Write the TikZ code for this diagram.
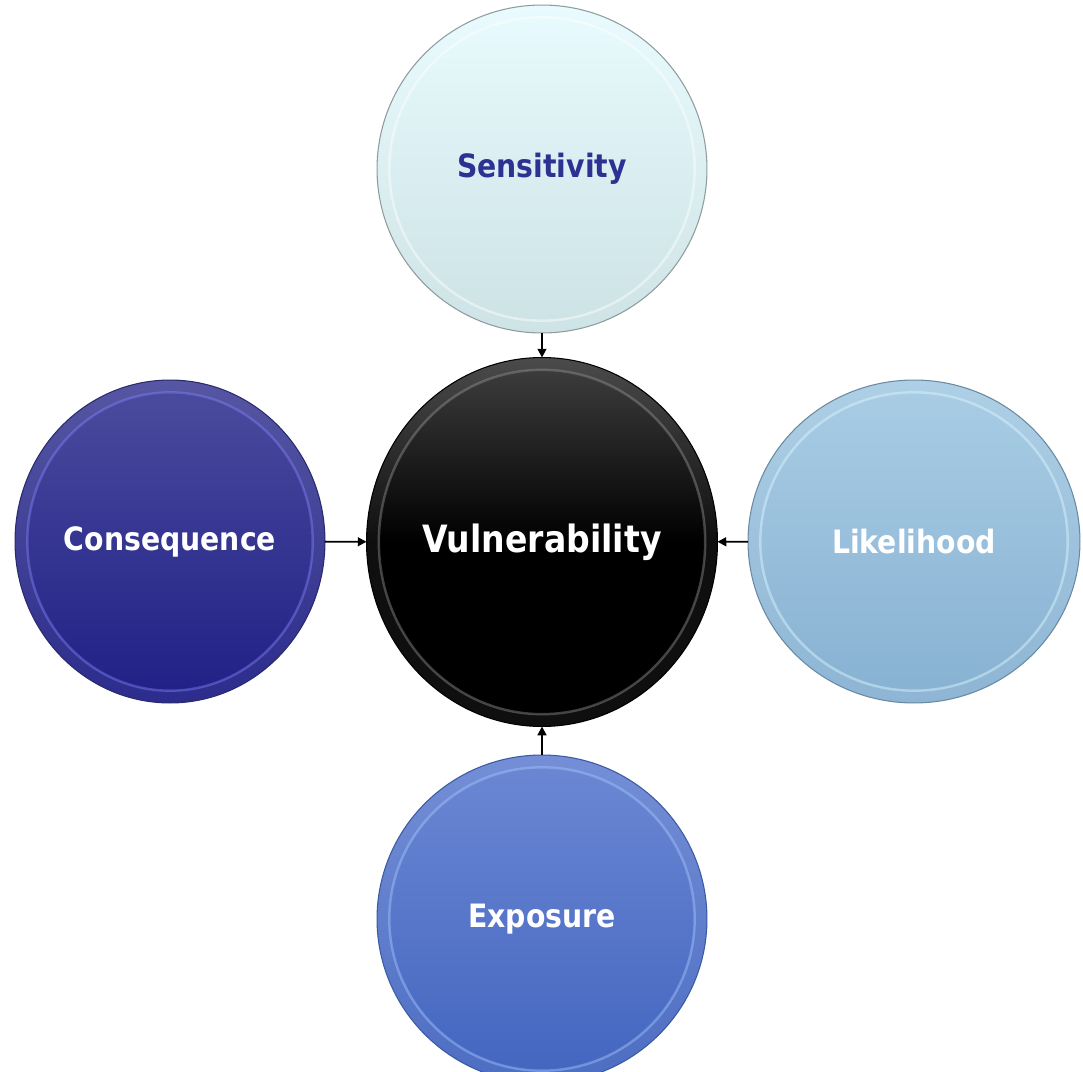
\documentclass[tikz,border=0pt]{standalone}
\usepackage{fontspec}
\setmainfont{DejaVu Sans}[FakeStretch=0.88]
\usetikzlibrary{positioning,shapes,arrows.meta,calc}

\definecolor{senTop}{HTML}{E8FBFE}
\definecolor{senBot}{HTML}{CCE2E4}
\definecolor{senRim}{HTML}{FFFFFF}
\definecolor{senLine}{HTML}{8E9C9E}
\definecolor{senText}{HTML}{2E3192}
\definecolor{vulTop}{HTML}{404040}
\definecolor{vulBot}{HTML}{000000}
\definecolor{vulRim}{HTML}{8C8C8C}
\definecolor{conTop}{HTML}{4C4C9E}
\definecolor{conBot}{HTML}{1F1F86}
\definecolor{conRim}{HTML}{7C7CF2}
\definecolor{conLine}{HTML}{2A2A6E}
\definecolor{likTop}{HTML}{A9CDE5}
\definecolor{likBot}{HTML}{87B1D2}
\definecolor{likRim}{HTML}{DDF8FF}
\definecolor{likLine}{HTML}{6A8AA2}
\definecolor{expTop}{HTML}{6C88D4}
\definecolor{expBot}{HTML}{4365BF}
\definecolor{expRim}{HTML}{A0C4FF}
\definecolor{expLine}{HTML}{3A5AA2}

\begin{document}
\begin{tikzpicture}
            [x=0.02cm,y=-0.02cm,
             every node/.style={ellipse, inner sep=0pt, outer sep=0pt, align=center,
               font=\bfseries\fontsize{18.3}{20}\selectfont},
             bubble/.style n args={4}{top color=#1, bottom color=#2, draw=#4, line width=0.6pt,
               path picture={
                 \draw[#3, line width=1.4pt, opacity=.45]
                   let \p1=(path picture bounding box.north east),
                       \p2=(path picture bounding box.center)
                   in (\p2) ellipse [x radius=\x1-\x2-7pt, y radius=\y1-\y2-7pt];
                 \draw[white, line width=7pt, opacity=.06]
                   let \p1=(path picture bounding box.north east),
                       \p2=(path picture bounding box.center)
                   in (\p2) ellipse [x radius=\x1-\x2-3.5pt, y radius=\y1-\y2-3.5pt];
               }},
             link/.style={-{Triangle[length=5pt,width=5pt]}, line width=1.1pt}]

            \useasboundingbox (0,0) rectangle (1083,1072);

            \node[bubble={senTop}{senBot}{senRim}{senLine}, text=senText,
                  minimum width=6.6cm, minimum height=6.56cm] (sen) at (542,169) {Sensitivity};
            \node[bubble={vulTop}{vulBot}{vulRim}{black}, middle color=vulBot, text=white,
                  minimum width=7.02cm, minimum height=7.38cm,
                  font=\bfseries\fontsize{21.4}{24}\selectfont] (vul) at (542,542) {Vulnerability};
            \node[bubble={conTop}{conBot}{conRim}{conLine}, text=white,
                  minimum width=6.2cm, minimum height=6.46cm] (con) at (170,541.5) {Consequence};
            \node[bubble={likTop}{likBot}{likRim}{likLine}, text=white,
                  minimum width=6.64cm, minimum height=6.46cm] (lik) at (914,541.5) {Likelihood};
            \node[bubble={expTop}{expBot}{expRim}{expLine}, text=white,
                  minimum width=6.6cm, minimum height=6.56cm] (exp) at (542,919) {Exposure};

            \path (sen) edge[link] (vul)
              (con) edge[link] (vul)
              (lik) edge[link] (vul)
              (exp) edge[link] (vul);
\end{tikzpicture}
\end{document}
